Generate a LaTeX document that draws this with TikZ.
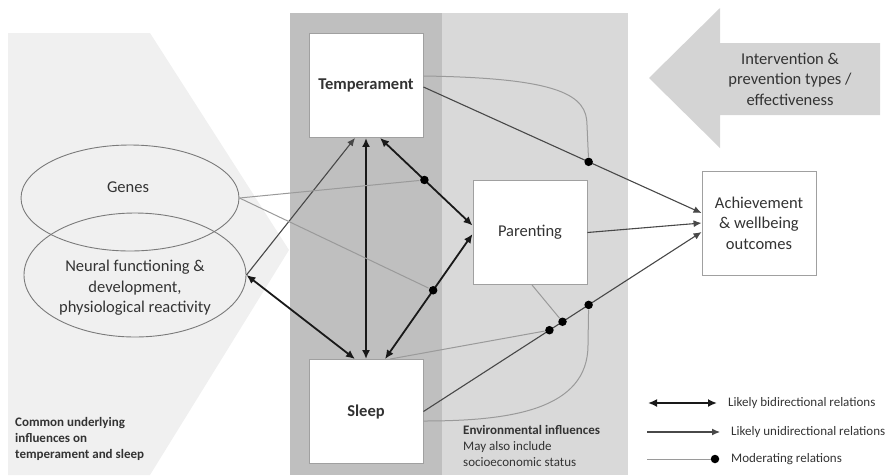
\documentclass[tikz,border=0pt]{standalone}
\usepackage{fontspec}
\setmainfont{Carlito}
\usetikzlibrary{arrows.meta,shapes.geometric}

\definecolor{txtgrey}{HTML}{333333}
\definecolor{leftbg}{HTML}{F0F0F0}
\definecolor{darkcol}{HTML}{BFBFBF}
\definecolor{lightcol}{HTML}{D9D9D9}
\definecolor{arrowbg}{HTML}{D4D4D4}
\definecolor{boxline}{HTML}{A0A0A0}
\definecolor{ovalline}{HTML}{7A7A7A}
\definecolor{uniline}{HTML}{484848}
\definecolor{modline}{HTML}{9A9A9A}

\newcommand{\bigtxt}{\fontsize{16.5}{20.5}\selectfont}
\newcommand{\smalltxt}{\fontsize{13}{16}\selectfont}

\begin{document}
\begin{tikzpicture}[x=1pt,y=-1pt,
    box/.style={draw=boxline,fill=white,line width=0.9pt,minimum width=114pt,minimum height=104pt,inner sep=0pt,font=\bigtxt,text=txtgrey,align=center},
    oval/.style={ellipse,draw=ovalline,line width=0.9pt,inner sep=0pt},
    txt/.style={font=\bigtxt,text=txtgrey,align=center,inner sep=0pt},
    note/.style={font=\smalltxt,text=txtgrey,align=left,inner sep=0pt},
    bidir/.style={{Latex[length=9pt,width=8pt]}-{Latex[length=9pt,width=8pt]},line width=1.8pt,draw=black!90},
    unidir/.style={-{Latex[length=8pt,width=7pt]},line width=1.1pt,draw=uniline},
    moder/.style={line width=1pt,draw=modline},
    dot/.style={circle,fill=black,inner sep=0pt,minimum size=8.5pt}]
    \useasboundingbox (0,0) rectangle (887,475);

    % background areas
    \fill[leftbg] (8,33) -- (150,33) -- (289,250) -- (150,475) -- (8,475) -- cycle;
    \fill[darkcol] (290,13) rectangle (442,475);
    \fill[lightcol] (442,13) rectangle (628,475);
    \fill[arrowbg] (649,78) -- (720,8) -- (720,43) -- (880,43) -- (880,115) -- (720,115) -- (720,148) -- cycle;

    % boxes
    \node[box] (temp) at (366,85.5) {\bfseries Temperament};
    \node[box] (sleep) at (366,411.5) {\bfseries Sleep};
    \node[box] (par) at (530,232.5) {Parenting};
    \node[box] (ach) at (759,223) {Achievement\\\& wellbeing\\outcomes};

    % ovals
    \node[oval,minimum width=218pt,minimum height=106pt] (genes) at (130,198) {};
    \node[oval,minimum width=222pt,minimum height=124pt] (neural) at (135,275) {};
    \node[txt] (geneslbl) at (128,187) {Genes};
    \node[txt] (neurallbl) at (135,288) {Neural functioning \&\\development,\\physiological reactivity};

    % texts
    \node[txt] (interv) at (790,79) {Intervention \&\\prevention types /\\effectiveness};
    \node[note,anchor=north west,font=\smalltxt\bfseries] (common) at (15,417) {Common underlying\\influences on\\temperament and sleep};
    \node[note,anchor=north west] (env) at (463,425) {\textbf{Environmental influences}\\May also include\\socioeconomic status};

    % relations
    \draw[unidir] (neural.east) to ([xshift=-11pt]temp.south);
    \draw[bidir] (neural.east) to ([xshift=-11pt]sleep.north);
    \draw[bidir] (temp.south) to (sleep.north);
    \draw[bidir] ([xshift=14pt]temp.south) to node[dot,pos=0.48] (mtp) {} ([yshift=7pt]par.west);
    \draw[bidir] ([xshift=19pt]sleep.north) to node[dot,pos=0.55] (msp) {} ([yshift=-1.5pt]par.west);
    \draw[moder] (genes.east) to (mtp);
    \draw[moder] (genes.east) to (msp);

    \draw[unidir] ([yshift=-1.5pt]temp.east) to node[dot,pos=0.594] (mta) {} ([yshift=10pt]ach.west);
    \draw[moder] ([yshift=9.5pt]temp.east) .. controls (560,78) and (587,95) .. (587,125) -- (mta);
    \draw[unidir] (par.east) to (ach.west);
    \draw[unidir] (sleep.east) to node[dot,pos=0.453] (msa1) {} node[dot,pos=0.5] (msa2) {} node[dot,pos=0.594] (msa3) {} ([yshift=-9pt]ach.west);
    \draw[moder] ([xshift=24pt]sleep.north) to (msa1);
    \draw[moder] ([xshift=2pt]par.south) to (msa2);
    \draw[moder] ([yshift=-9.5pt]sleep.east) .. controls (510,421) and (588,410) .. (588,345) -- (msa3);

    % legend
    \coordinate (lgbi0) at (648,403);
    \coordinate (lgbi1) at (717,403);
    \coordinate (lguni0) at (647,432);
    \coordinate (lguni1) at (720,432);
    \coordinate (lgmod0) at (647,459);
    \node[dot] (lgmod1) at (715,459) {};
    \draw[bidir] (lgbi0) -- (lgbi1);
    \draw[unidir] (lguni0) -- (lguni1);
    \draw[moder] (lgmod0) -- (lgmod1);
    \node[note,anchor=west] (lgbi) at (728,403) {Likely bidirectional relations};
    \node[note,anchor=west] (lguni) at (731,432) {Likely unidirectional relations};
    \node[note,anchor=west] (lgmod) at (731,459) {Moderating relations};
\end{tikzpicture}
\end{document}
